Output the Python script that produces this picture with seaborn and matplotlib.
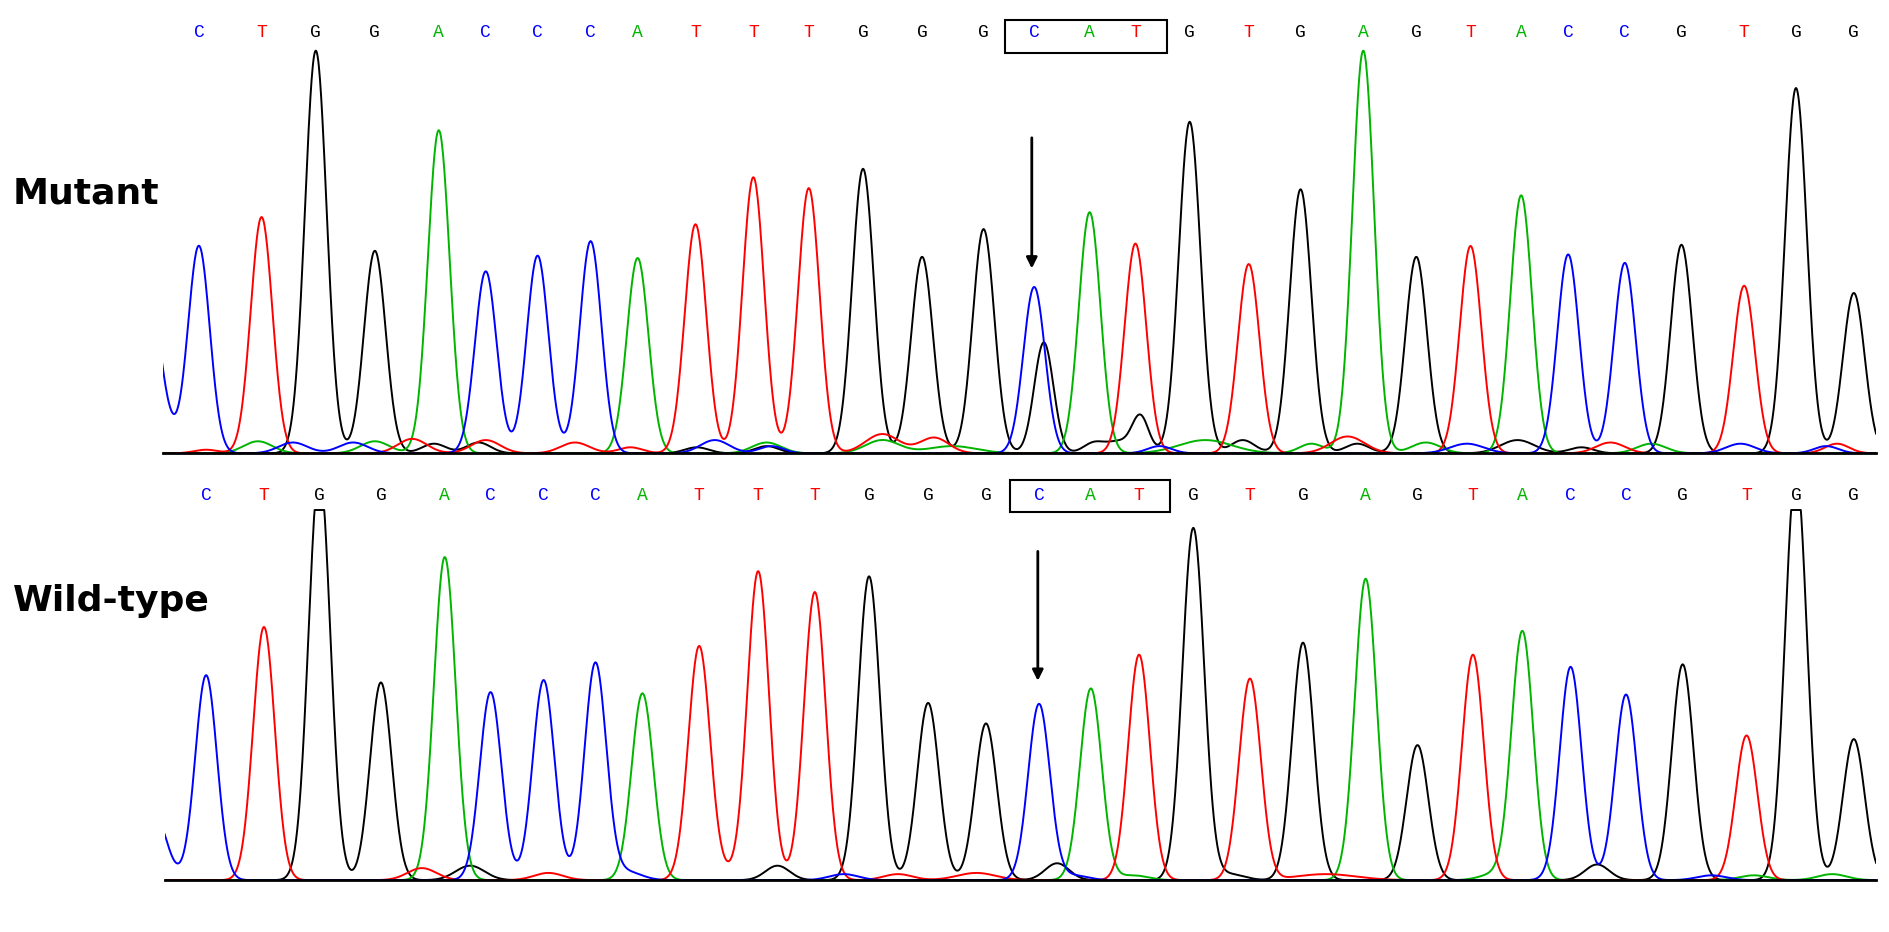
import numpy as np
import pandas as pd
import matplotlib.pyplot as plt
import seaborn as sns
from matplotlib.patches import Rectangle

# base calls (same read for both traces)
BASES = list("CTGGACCCATTTGGGCATGTGAGTACCGTGG")

# peak centres / heights (scan units ~ reference px)
MUT_POS = [165, 217, 262, 311, 364, 403, 446, 490, 529, 577, 625, 671, 716, 765, 816,
           858, 904, 942, 987, 1036, 1079, 1131, 1175, 1220, 1262, 1301, 1348, 1395,
           1447, 1490, 1538]
MUT_HEIGHT = [172, 196, 334, 168, 268, 151, 164, 176, 162, 190, 229, 220, 236, 163, 186,
              138, 200, 174, 275, 157, 219, 334, 163, 172, 214, 165, 158, 173, 139, 303, 133]

WT_POS = [171, 219, 265, 316, 369, 407, 451, 494, 533, 580, 629, 676, 721, 770, 818,
          862, 905, 945, 990, 1037, 1081, 1133, 1176, 1222, 1263, 1303, 1349, 1396,
          1449, 1490, 1538]
WT_HEIGHT = [170, 210, 340, 164, 268, 156, 166, 180, 155, 193, 256, 239, 252, 147, 130,
             146, 159, 187, 292, 167, 197, 250, 112, 187, 206, 172, 154, 179, 120, 340, 117]

# small background / secondary peaks
MUT_MINOR_CH = ['C', 'T', 'A', 'C', 'C', 'A', 'T', 'G', 'G', 'T', 'T', 'T', 'G', 'C',
                'A', 'C', 'G', 'T', 'A', 'T', 'A', 'G', 'G', 'G', 'G', 'C', 'A', 'G',
                'A', 'T', 'G', 'A', 'C', 'G', 'G', 'T', 'A', 'C', 'C', 'T']
MUT_MINOR_POS = [117, 171, 214, 243, 293, 311, 342, 360, 397, 403, 477, 523, 578, 593,
                 636, 640, 636, 732, 732, 775, 790, 866, 908, 928, 946, 962, 1000, 1031,
                 1088, 1118, 1126, 1183, 1217, 1259, 1312, 1336, 1370, 1444, 1515, 1524]
MUT_MINOR_H = [185, 3, 10, 9, 9, 10, 12, 8, 9, 11, 9, 5, 5, 11,
               9, 6, 6, 16, 11, 13, 6, 92, 9, 9, 31, 6, 11, 11,
               8, 14, 8, 9, 8, 11, 5, 9, 8, 8, 6, 8]
MUT_MINOR_SIG = [13, 10, 12, 12, 12, 12, 12, 10, 10, 12, 12, 10, 10, 12,
                 12, 10, 10, 14, 14, 12, 20, 8, 9, 9, 7, 10, 22, 10,
                 10, 14, 10, 12, 14, 14, 10, 12, 12, 12, 10, 10]

WT_MINOR_CH = ['C', 'T', 'G', 'T', 'C', 'T', 'G', 'C', 'T', 'T', 'G', 'C', 'A', 'T',
               'G', 'A', 'C', 'G', 'C', 'A', 'A']
WT_MINOR_POS = [128, 350, 390, 455, 520, 600, 645, 700, 745, 810, 877, 890, 940, 1100,
                1020, 1240, 1305, 1325, 1420, 1455, 1520]
WT_MINOR_H = [55, 10, 12, 6, 7, 5, 12, 5, 5, 6, 14, 4, 4, 5,
              5, 5, 5, 13, 4, 4, 5]
WT_MINOR_SIG = [10, 12, 12, 12, 12, 12, 10, 12, 12, 16, 10, 12, 12, 25,
                12, 12, 12, 10, 12, 12, 12]

COLORS = {'C': '#0000FF', 'A': '#00B400', 'G': '#000000', 'T': '#FF0000'}
REF_W, REF_H = 1568, 773
SIG = 9.0


def build_traces(pos, height, mch, mpos, mh, msig, clip=None):
    x = np.arange(100, 1575, 0.5)
    rows = []
    for ch in ['G', 'A', 'T', 'C']:
        y = np.zeros_like(x)
        for b, p, h in zip(BASES, pos, height):
            if b == ch:
                y += h * np.exp(-(x - p) ** 2 / (2 * SIG ** 2))
        for c, p, h, s in zip(mch, mpos, mh, msig):
            if c == ch:
                y += h * np.exp(-(x - p) ** 2 / (2 * s ** 2))
        if clip is not None:
            y = np.minimum(y, clip)
        rows.append(pd.DataFrame({'x': x, 'signal': y, 'channel': ch}))
    return pd.concat(rows, ignore_index=True)


def draw_panel(ax, df, pos, letter_y, box_y, arrow_x, arrow_y0, arrow_y1):
    sns.lineplot(data=df, x='x', y='signal', hue='channel', palette=COLORS,
                 estimator=None, errorbar=None, legend=False, linewidth=1.4, ax=ax)
    for b, p in zip(BASES, pos):
        ax.text(p, letter_y, b, color=COLORS[b], ha='center', va='center',
                fontfamily='Liberation Mono', fontsize=13, clip_on=False)
    # boxed codon
    ax.add_patch(Rectangle((pos[15] - 24, box_y), (pos[17] - pos[15]) + 50, 27,
                           fill=False, edgecolor='black', lw=1.5, clip_on=False))
    ax.annotate('', xy=(arrow_x, arrow_y1), xytext=(arrow_x, arrow_y0),
                arrowprops=dict(arrowstyle='-|>', color='black', lw=2, mutation_scale=16))
    for s in ['top', 'left', 'right']:
        ax.spines[s].set_visible(False)
    ax.spines['bottom'].set_linewidth(2)
    ax.spines['bottom'].set_color('black')
    ax.set_xticks([])
    ax.set_yticks([])
    ax.set_xlabel('')
    ax.set_ylabel('')
    ax.patch.set_alpha(0)


sns.set_theme(style='white')
plt.rcParams['font.family'] = ['DejaVu Sans']

fig = plt.figure(figsize=(18.9, 9.32), dpi=100)

ax_mut = fig.add_axes([135 / REF_W, 1 - 376 / REF_H, (1556 - 135) / REF_W, 371 / REF_H])
mut_df = build_traces(MUT_POS, MUT_HEIGHT, MUT_MINOR_CH, MUT_MINOR_POS, MUT_MINOR_H, MUT_MINOR_SIG)
draw_panel(ax_mut, mut_df, MUT_POS, 349, 332, 856, 264, 151)
ax_mut.set_xlim(135, 1556)
ax_mut.set_ylim(0, 371)

ax_wt = fig.add_axes([137 / REF_W, 1 - 730 / REF_H, (1556 - 137) / REF_W, 345 / REF_H])
wt_df = build_traces(WT_POS, WT_HEIGHT, WT_MINOR_CH, WT_MINOR_POS, WT_MINOR_H, WT_MINOR_SIG, clip=307)
draw_panel(ax_wt, wt_df, WT_POS, 319, 305, 861, 275, 163)
ax_wt.set_xlim(137, 1556)
ax_wt.set_ylim(0, 345)

fig.text(13 / 1890, 1 - 203 / 932, 'Mutant', fontsize=26, fontweight='bold',
         color='black', va='baseline')
fig.text(13 / 1890, 1 - 611 / 932, 'Wild-type', fontsize=26, fontweight='bold',
         color='black', va='baseline')

fig.savefig('out.png', dpi=100, facecolor='white')
